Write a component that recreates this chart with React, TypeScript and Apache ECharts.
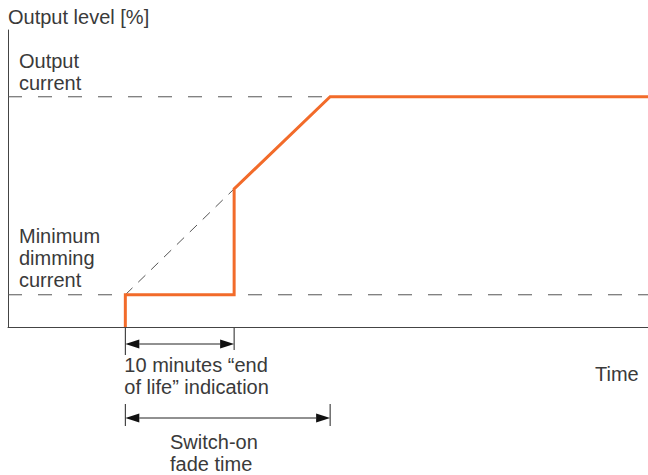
import React, { useEffect, useRef } from "react";
import * as echarts from "echarts";

// Output level curve (time in minutes, level in %)
const curveTimes = [11, 11, 21.2, 21.2, 30.2, 60];
const curveLevels = [0, 14, 14, 60, 100, 100];

// Reference levels
const outputCurrentLevel = 100;
const minDimmingLevel = 14;

// Key times
const fadeStart = 11;
const eolEnd = 21.2;
const fadeEnd = 30.2;
const timeMax = 60;
const levelMax = 129;

const TEXT_COLOR = "#3a3a3a";
const LINE_COLOR = "#444";
const ORANGE = "#f26b2a";
const FONT = "Liberation Sans";

export default function App() {
  const ref = useRef<HTMLDivElement>(null);
  useEffect(() => {
    if (!ref.current) return;
    const chart = echarts.init(ref.current, undefined, { renderer: "svg" });
    const dashStyle = { color: "#555", width: 1, type: [14, 16] as any };
    const option: any = {
      animation: false,
      grid: { left: 8, right: 0, top: 30, bottom: 148 },
      xAxis: {
        type: "value",
        min: 0,
        max: timeMax,
        axisLine: { show: true, onZero: false, lineStyle: { color: LINE_COLOR, width: 1 } },
        axisTick: { show: false },
        axisLabel: { show: false },
        splitLine: { show: false },
      },
      yAxis: {
        type: "value",
        min: 0,
        max: levelMax,
        axisLine: { show: true, lineStyle: { color: LINE_COLOR, width: 1 } },
        axisTick: { show: false },
        axisLabel: { show: false },
        splitLine: { show: false },
      },
      series: [
        {
          type: "line",
          data: [[0, outputCurrentLevel], [timeMax, outputCurrentLevel]],
          symbol: "none",
          lineStyle: dashStyle,
          z: 1,
        },
        {
          type: "line",
          data: [[0, minDimmingLevel], [timeMax, minDimmingLevel]],
          symbol: "none",
          lineStyle: dashStyle,
          z: 1,
        },
        {
          type: "line",
          data: [[curveTimes[1], curveLevels[1]], [curveTimes[3], curveLevels[3]]],
          symbol: "none",
          lineStyle: { color: "#555", width: 1, type: [10, 8] },
          z: 1,
        },
        {
          type: "line",
          data: curveTimes.map((t, i) => [t, curveLevels[i]]),
          symbol: "none",
          lineStyle: { color: ORANGE, width: 3, join: "miter" },
          z: 3,
        },
      ],
    };
    chart.setOption(option);

    const p = (x: number, y: number) => chart.convertToPixel({ gridIndex: 0 }, [x, y]) as number[];
    const [xs, y0] = p(fadeStart, 0);
    const [xe] = p(eolEnd, 0);
    const [xf] = p(fadeEnd, 0);

    const stroke = { stroke: "#222", lineWidth: 1 };
    const head = 14;
    const hw = 4.5;
    const arrow = (x1: number, x2: number, y: number) => [
      { type: "line", shape: { x1: x1 + head, y1: y, x2: x2 - head, y2: y }, style: stroke },
      { type: "polygon", shape: { points: [[x1, y], [x1 + head, y - hw], [x1 + head, y + hw]] }, style: { fill: "#111" } },
      { type: "polygon", shape: { points: [[x2, y], [x2 - head, y - hw], [x2 - head, y + hw]] }, style: { fill: "#111" } },
    ];
    const txt = (text: string, x: number, y: number, align = "left") => ({
      type: "text",
      x,
      y,
      style: {
        text,
        fill: TEXT_COLOR,
        fontFamily: FONT,
        fontSize: 20,
        fontWeight: "normal",
        lineHeight: 22,
        align,
        verticalAlign: "top",
      },
    });

    const graphic: any[] = [
      // dimension ticks
      { type: "line", shape: { x1: xs, y1: y0, x2: xs, y2: 355 }, style: stroke },
      { type: "line", shape: { x1: xe, y1: y0, x2: xe, y2: 350 }, style: stroke },
      { type: "line", shape: { x1: xs, y1: 404, x2: xs, y2: 426 }, style: stroke },
      { type: "line", shape: { x1: xf, y1: 404, x2: xf, y2: 426 }, style: stroke },
      ...arrow(xs, xe, 344),
      ...arrow(xs, xf, 418),
      txt("Output level [%]", 8, 6),
      txt("Output\ncurrent", 19, 50),
      txt("Minimum\ndimming\ncurrent", 19, 225),
      txt("Time", 595, 363),
      txt("10 minutes \u201cend\nof life\u201d indication", xs - 1, 354),
      txt("Switch-on\nfade time", 170, 431),
    ];
    chart.setOption({ graphic });

    return () => chart.dispose();
  }, []);
  return <div ref={ref} style={{ width: 648, height: 475, position: "absolute", left: 0, top: 0 }} />;
}
